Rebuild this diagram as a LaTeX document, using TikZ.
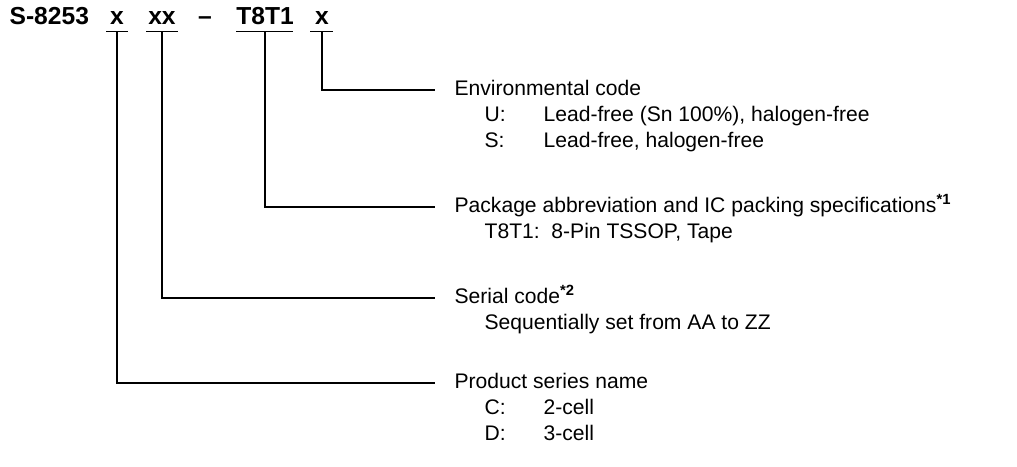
\documentclass[tikz,border=0pt]{standalone}
\usepackage{fontspec}
\setmainfont{Liberation Sans}
\begin{document}
\begin{tikzpicture}[x=0.025cm, y=-0.025cm, line width=0.9pt,
    every node/.style={inner sep=0pt, font=\fontsize{15}{18}\selectfont},
    part/.style={anchor=base, font=\fontsize{17.5}{20}\selectfont\bfseries},
    lbl/.style={anchor=west, inner xsep=0.475cm, text height=0.72em, text depth=0pt},
    sub/.style={anchor=west, text height=0.72em, text depth=0pt}]
    \useasboundingbox (0,0) rectangle (1017,466);

    % product name
    \node[part, anchor=base west] (name) at (9,25) {S-8253};
    \node[part] (p1) at (117,25) {x};
    \node[part] (p2) at (162,25) {xx};
    \node[part] (dash) at (205,25) {--};
    \node[part] (p3) at (265,25) {T8T1};
    \node[part] (p4) at (322,25) {x};

    \draw (106,31.5) -- (128,31.5);
    \draw (146,31.5) -- (178,31.5);
    \draw (236,31.5) -- (293,31.5);
    \draw (310,31.5) -- (333,31.5);

    \coordinate (u1) at (117,31.5);
    \coordinate (u2) at (162,31.5);
    \coordinate (u3) at (265,31.5);
    \coordinate (u4) at (322,31.5);

    % labels
    \node[lbl] (env) at (435,90) {Environmental code};
    \node[sub] (envU) at (484,116) {U:};
    \node[sub] (envUt) at (543,116) {Lead-free (Sn 100\%), halogen-free};
    \node[sub] (envS) at (484,142) {S:};
    \node[sub] (envSt) at (543,142) {Lead-free, halogen-free};

    \node[lbl] (pkg) at (435,207) {Package abbreviation and IC packing specifications\textsuperscript{\bfseries *1}};
    \node[sub] (pkgT) at (484,233) {T8T1:\ \ 8-Pin TSSOP, Tape};

    \node[lbl] (ser) at (435,298) {Serial code\textsuperscript{\bfseries *2}};
    \node[sub] (serT) at (484,324) {Sequentially set from AA to ZZ};

    \node[lbl] (prod) at (435,383) {Product series name};
    \node[sub] (prodC) at (484,409) {C:};
    \node[sub] (prodCt) at (543,409) {2-cell};
    \node[sub] (prodD) at (484,435) {D:};
    \node[sub] (prodDt) at (543,435) {3-cell};

    % connectors
    \draw (u4) |- (env.west);
    \draw (u3) |- (pkg.west);
    \draw (u2) |- (ser.west);
    \draw (u1) |- (prod.west);
\end{tikzpicture}
\end{document}
